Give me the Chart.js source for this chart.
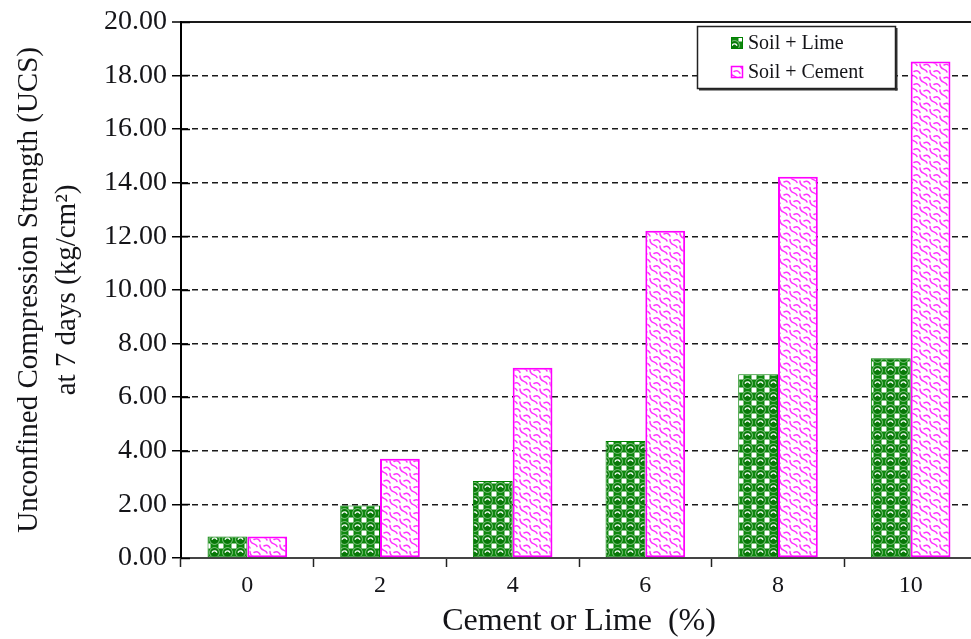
<!DOCTYPE html>
<html>
<head>
<meta charset="utf-8">
<script src="https://cdn.jsdelivr.net/npm/chart.js@4/dist/chart.umd.min.js"></script>
<style>
  html, body { margin: 0; padding: 0; background: #fff; overflow: hidden; }
  #wrap { width: 978px; height: 639px; }
</style>
</head>
<body>
<div id="wrap"><canvas id="c" width="978" height="639"></canvas></div>
<script>
// Additive content (%) on the x axis
const categories = ['0', '2', '4', '6', '8', '10'];
// UCS at 7 days (kg/cm²)
const limeUCS   = [0.80, 1.96, 2.87, 4.36, 6.85, 7.45];
const cementUCS = [0.80, 3.70, 7.10, 12.21, 14.22, 18.52];
const seriesNames = ['Soil + Lime', 'Soil + Cement'];
// y axis range and step
const yMin = 0, yMax = 20, yStep = 2;

const SERIF = '"Liberation Serif", "Times New Roman", serif';
const TEXT = '#141418';

// ---- fill patterns ----
function greenTile() {
  const t = document.createElement('canvas');
  t.width = 13; t.height = 13;
  const g = t.getContext('2d');
  g.fillStyle = '#0e880e';
  g.fillRect(0, 0, 13, 13);
  // white squares between the balls
  g.fillStyle = '#ffffff';
  [[0,0],[13,0],[0,13],[13,13]].forEach(([x,y]) => g.fillRect(x - 2.5, y - 2.5, 5, 5));
  // ball with a light rim
  g.strokeStyle = '#9fd09f';
  g.lineWidth = 1;
  g.beginPath(); g.arc(6.5, 6.5, 4.8, 0, Math.PI * 2); g.stroke();
  g.fillStyle = '#087808';
  g.beginPath(); g.arc(6.5, 6.5, 4.2, 0, Math.PI * 2); g.fill();
  // highlight
  g.strokeStyle = '#f0faf0';
  g.lineWidth = 1.4;
  g.beginPath(); g.arc(6.5, 7.5, 2.6, Math.PI * 1.1, Math.PI * 1.9); g.stroke();
  return t;
}
function pinkTile() {
  const t = document.createElement('canvas');
  t.width = 20; t.height = 13;
  const g = t.getContext('2d');
  g.fillStyle = '#ffffff';
  g.fillRect(0, 0, 20, 13);
  g.strokeStyle = 'rgba(255,0,255,0.8)';
  g.lineWidth = 1.5;
  g.lineCap = 'round';
  // overlapping scales, alternate rows shifted by half a tile
  const scale = (cx, cy) => {
    g.beginPath();
    g.moveTo(cx - 5, cy - 2);
    g.bezierCurveTo(cx - 5, cy + 5, cx + 1, cy + 2, cx + 2, cy + 6);
    g.stroke();
    g.beginPath();
    g.moveTo(cx - 1, cy - 1);
    g.quadraticCurveTo(cx + 3, cy - 3, cx + 5, cy + 1);
    g.stroke();
  };
  for (const dx of [-20, 0, 20]) {
    for (const dy of [-13, 0, 13]) {
      scale(5 + dx, 1 + dy);
      scale(15 + dx, 7.5 + dy);
    }
  }
  return t;
}

const canvas = document.getElementById('c');
const ctx = canvas.getContext('2d');
const limeFill = ctx.createPattern(greenTile(), 'repeat');
const cementFill = ctx.createPattern(pinkTile(), 'repeat');

// short tick marks on the inner side of the y axis and the legend box
const decorations = {
  id: 'decorations',
  afterDraw(chart) {
    const c = chart.ctx;
    const y = chart.scales.y;
    c.save();
    c.strokeStyle = '#000';
    c.lineWidth = 1.5;
    y.ticks.forEach((tk, i) => {
      const py = Math.round(y.getPixelForTick(i)) + 0.5;
      c.beginPath();
      c.moveTo(y.right, py);
      c.lineTo(y.right + 9, py);
      c.stroke();
    });

    // legend
    const bx = 697, by = 26, bw = 198, bh = 62;
    c.fillStyle = '#fff';
    c.fillRect(bx, by, bw, bh);
    c.fillStyle = '#333';
    c.fillRect(bx + bw, by + 2, 2.5, bh + 0.5);
    c.fillRect(bx + 2, by + bh, bw + 0.5, 2.5);
    c.strokeStyle = '#222';
    c.lineWidth = 1.5;
    c.strokeRect(bx + 0.5, by + 0.5, bw, bh);

    const ds = chart.data.datasets;
    const rows = [43, 72];
    c.font = '20px ' + SERIF;
    c.textBaseline = 'middle';
    c.textAlign = 'left';
    ds.forEach((d, i) => {
      const sy = rows[i] - 6;
      c.fillStyle = d.backgroundColor;
      c.fillRect(731, sy, 12, 12);
      c.lineWidth = i === 0 ? 1 : 1.5;
      c.strokeStyle = d.borderColor;
      c.strokeRect(731.5, sy + 0.5, 11, 11);
      c.fillStyle = TEXT;
      c.fillText(d.label, 748, rows[i] + 1);
    });
    c.restore();
  }
};

new Chart(canvas, {
  type: 'bar',
  data: {
    labels: categories,
    datasets: [
      {
        label: seriesNames[0],
        data: limeUCS,
        backgroundColor: limeFill,
        borderColor: '#008000',
        borderWidth: 1,
        borderSkipped: false
      },
      {
        label: seriesNames[1],
        data: cementUCS,
        backgroundColor: cementFill,
        borderColor: '#ff00ff',
        borderWidth: 2,
        borderSkipped: false
      }
    ]
  },
  options: {
    responsive: false,
    animation: false,
    devicePixelRatio: 1,
    layout: { padding: { top: 18, right: 1, bottom: 0, left: 0 } },
    datasets: { bar: { categoryPercentage: 0.6, barPercentage: 1.0 } },
    plugins: { legend: { display: false }, tooltip: { enabled: false } },
    scales: {
      x: {
        offset: true,
        grid: {
          offset: true,
          drawOnChartArea: false,
          drawTicks: true,
          tickLength: 9,
          tickColor: '#222',
          tickWidth: 1.5
        },
        border: { display: true, color: '#444', width: 2 },
        ticks: { color: TEXT, font: { family: SERIF, size: 24 }, padding: 4 },
        title: {
          display: true,
          text: 'Cement or Lime  (%)',
          color: TEXT,
          font: { family: SERIF, size: 32, lineHeight: 1.1 },
          padding: { top: 0, bottom: 0 }
        },
        afterFit(s) { s.height = 81; }
      },
      y: {
        min: yMin,
        max: yMax,
        ticks: {
          stepSize: yStep,
          color: TEXT,
          font: { family: SERIF, size: 28 },
          padding: 5,
          callback: v => Number(v).toFixed(2)
        },
        grid: {
          color: c => (c.tick && c.tick.value === yMin) ? 'rgba(0,0,0,0)' : '#1a1a1a',
          lineWidth: c => (c.tick && c.tick.value === yMax) ? 2 : 1.5,
          drawTicks: true,
          tickLength: 9,
          tickColor: '#000',
          tickWidth: 1.5,
          tickBorderDash: []
        },
        border: {
          display: true,
          color: '#000',
          width: 2,
          dash: c => (c.tick && c.tick.value === yMax) ? [] : [6, 4]
        },
        title: {
          display: true,
          text: ['Unconfined Compression Strength (UCS)', 'at 7 days (kg/cm²)'],
          color: TEXT,
          font: { family: SERIF, size: 29, lineHeight: 1.3 },
          padding: { top: 11, bottom: 0 }
        },
        afterFit(s) { s.width = 181; }
      }
    }
  },
  plugins: [decorations]
});
</script>
</body>
</html>
